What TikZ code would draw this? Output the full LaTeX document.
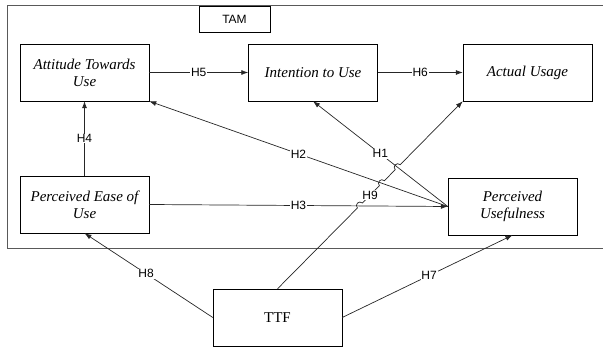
\documentclass[tikz,border=0pt]{standalone}
\usepackage{fontspec}
\setmainfont{Liberation Serif}
\setsansfont{Liberation Sans}
\usetikzlibrary{arrows.meta, calc}

\begin{document}
\begin{tikzpicture}[x=1pt, y=-1pt,
		construct/.style={draw, rectangle, minimum width=129pt, minimum height=57pt, align=center, inner sep=2pt, font=\fontsize{15}{17}\selectfont\itshape},
		hyp/.style={fill=white, inner sep=0.8pt, font=\sffamily\fontsize{12}{14}\selectfont},
		link/.style={-{Latex[length=7pt,width=5pt]}, line width=0.7pt, draw=black!85}]
		\useasboundingbox (0,0) rectangle (603,347);
		% TAM frame, open on the right
		\draw[line width=1pt, black!65] (603,6) -- (7,6) -- (7,249) -- (603,249);
		\node[draw, rectangle, minimum width=71pt, minimum height=26pt, font=\sffamily\fontsize{12}{14}\selectfont] (tam) at (234.5,19) {TAM};

		\node[construct] (att) at (84.5,72.5) {Attitude Towards\\Use};
		\node[construct] (int) at (313,72.5) {Intention to Use};
		\node[construct] (act) at (527.5,72.5) {Actual Usage};
		\node[construct] (peou) at (84.5,204.5) {Perceived Ease of\\Use};
		\node[construct] (pu) at (512.5,206.5) {Perceived\\Usefulness};
		\node[construct, font=\fontsize{15}{17}\selectfont\upshape] (ttf) at (277.5,317.5) {TTF};

		\draw[link] (att) -- node[hyp] {H5} (int);
		\draw[link] (int) -- node[hyp] {H6} (act);
		\draw[link] (peou) -- node[hyp] {H4} (att);
		\draw[link] (peou.east) -- node[hyp] {H3} (pu.west);
		\draw[link] (pu.west) -- node[hyp, pos=0.5] {H2} (att.south east);
		\draw[link] (pu.west) -- node[hyp, pos=0.5] {H1} (int.south);
		\draw[link] (ttf.west) -- node[hyp, pos=0.52] {H8} (peou.south);
		\draw[link] (ttf.east) -- node[hyp, pos=0.51] {H7} (pu.south);

		% H9 hops over H3, H2 and H1
		\coordinate (x3) at (359.9,205.5);
		\coordinate (x2) at (381.9,183.2);
		\coordinate (x1) at (397.7,167.2);
		\foreach \c in {x3, x2, x1} {
			\coordinate (\c a) at ($(\c)!3.5pt!(ttf.north)$);
			\coordinate (\c b) at ($(\c)!3.5pt!(act.south west)$);
		}
		\draw[link] (ttf.north) -- (x3a)
			.. controls ($(x3a)!4.5pt!90:(x3b)$) and ($(x3b)!4.5pt!-90:(x3a)$) .. (x3b)
			-- (x2a)
			.. controls ($(x2a)!4.5pt!90:(x2b)$) and ($(x2b)!4.5pt!-90:(x2a)$) .. (x2b)
			-- (x1a)
			.. controls ($(x1a)!4.5pt!90:(x1b)$) and ($(x1b)!4.5pt!-90:(x1a)$) .. (x1b)
			-- (act.south west);
		\node[hyp] (h9) at ($(ttf.north)!0.5!(act.south west)$) {H9};
	\end{tikzpicture}
\end{document}
